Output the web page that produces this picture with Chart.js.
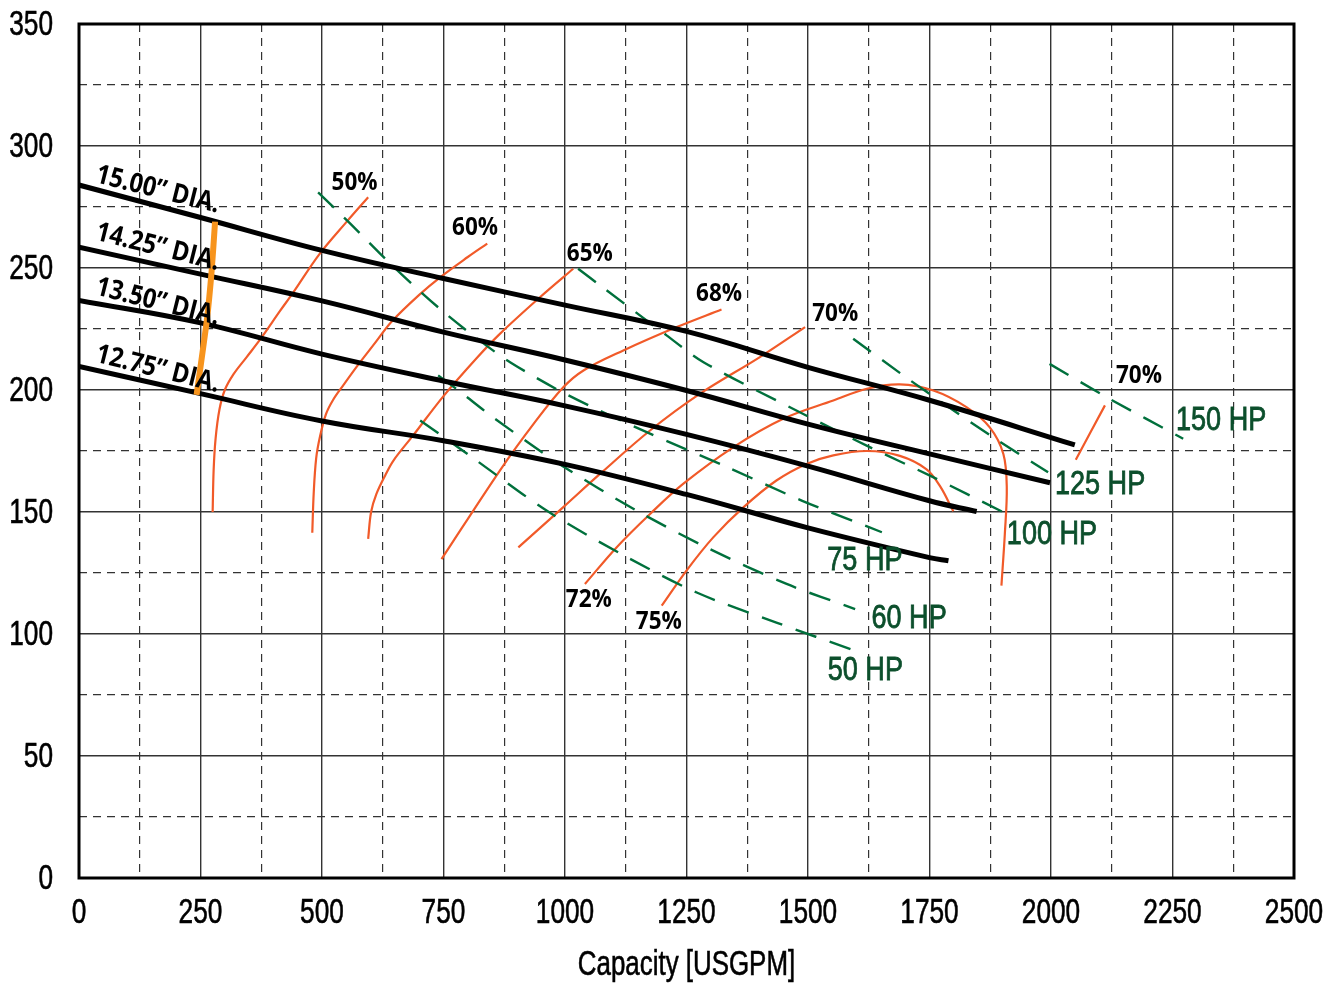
<!DOCTYPE html>
<html>
<head>
<meta charset="utf-8">
<script src="https://cdn.jsdelivr.net/npm/chart.js@4.4.0/dist/chart.umd.min.js"></script>
<style>
html, body { margin: 0; padding: 0; background: #fff; }
#wrap { width: 1343px; height: 983px; }
</style>
</head>
<body>
<div id="wrap"><canvas id="pumpChart"></canvas></div>
<script>
// axis ticks
const capTicks = [0, 250, 500, 750, 1000, 1250, 1500, 1750, 2000, 2250, 2500];
const headTicks = [0, 50, 100, 150, 200, 250, 300, 350];

// impeller curves [capacity, head]
const dia1500 = [[0,284],[250,270.7],[500,257.2],[750,245.7],[1000,234.8],[1250,224],[1500,209.3],[1750,195.8],[2049,177.5]];
const dia1425 = [[0,258.5],[250,247.5],[500,236.5],[750,223.7],[1000,212.3],[1250,199.8],[1500,186],[1750,173.8],[1998,162]];
const dia1350 = [[0,236.7],[250,227.5],[500,214.7],[750,203.7],[1000,193.5],[1250,181.8],[1500,168.8],[1750,154.6],[1847,150.2]];
const dia1275 = [[0,209.7],[250,198.5],[500,187.3],[750,179.2],[1000,169.5],[1250,157.2],[1500,143.5],[1750,131.3],[1789,130]];

// minimum diameter trim line
const trimLine = [[242,198],[263,228.5],[273,249],[280,269]];

// efficiency curves
const eff50 = [[275,150],[277,167],[281,180],[289,192],[300,200],[318,206.5],[345,213.5],[372,220.5],[414,232.5],[441,240],[494,255.5],[551,269],[595,279]];
const eff60 = [[480,141.5],[483,158],[488,172],[496,181],[508,190],[523,196],[544,202],[575,210.5],[610,219.5],[643,228],[700,239],[745,246.5],[800,254.5],[840,260]];
const eff65 = [[595,139],[601,150],[612,157.4],[630,165],[647,171.1],[688,181.5],[750,197.5],[818,213],[866,223],[949,238.1],[1017,249.7]];
const eff68 = [[746,130.7],[866,167],[935,186],[996,201],[1038,208],[1120,216.2],[1230,225.8],[1322,233]];
const eff70 = [[904,135.5],[996,151.9],[1072,165.6],[1175,183.4],[1278,198.5],[1401,213.5],[1494,225.8]];
const eff72 = [[1041,120.5],[1106,135.5],[1175,149.2],[1243,161.5],[1346,176.5],[1449,188.2],[1552,195.7],[1621,200.5],[1689,202.3],[1758,199.8],[1826,193],[1874,184.7],[1902,173.8],[1909,160.1],[1905,141],[1898,119.8]];
const eff75 = [[1199,111.6],[1250,126],[1305,139.6],[1367,151.9],[1435,162.9],[1497,169.7],[1552,173.2],[1621,175],[1689,173],[1744,167.5],[1772,160.5],[1799,150.3]];
const eff70b = [[2051,171.4],[2111,193.7]];

// power lines
const hp50 = [[702,187.5],[746,181.4],[818,171.1],[962,150.6],[1110,133.4],[1271,117],[1435,104.7],[1597,93.1]];
const hp60 = [[739,206],[784,199.3],[852,188.8],[993,169.1],[1147,150.6],[1298,134.8],[1456,120.5],[1597,110.2]];
const hp75 = [[492,281],[554,269],[619,256],[681,244.2],[746,232.7],[815,221.7],[887,211.4],[1007,197.8],[1168,182.7],[1326,169.1],[1487,154.7],[1652,141.7]];
const hp100 = [[1027,249.7],[1072,242.9],[1209,222.4],[1285,211.4],[1470,192.2],[1628,176.5],[1751,164.9],[1902,149.9]];
const hp125 = [[1593,221],[1710,204],[1881,180.6],[1994,166.3]];
const hp150 = [[1997,210.7],[2115,197],[2272,180]];

// text labels
const diaNames = ['15.00\u201D DIA.', '14.25\u201D DIA.', '13.50\u201D DIA.', '12.75\u201D DIA.'];
const diaAt = [[162,282],[162,258.5],[162,236],[162,208.5]];
const effNames = ['50%', '60%', '65%', '68%', '70%', '70%', '72%', '75%'];
const effAt = [[567,285],[815,266.5],[1051,255.6],[1317,239.3],[1556,231],[2181,205.6],[1049,114],[1193,105]];
const hpNames = ['150 HP', '125 HP', '100 HP', '75 HP', '60 HP', '50 HP'];
const hpAt = [[2350,187.5],[2101,161.3],[2002,140.7],[1617,130.1],[1708,106.3],[1618,84.9]];
const xTitle = 'Capacity [USGPM]';

const narrow = "'Liberation Sans', Arial, sans-serif";
const semi = "'Open Sans', 'Noto Sans', sans-serif";

const orange = '#f15a29';
const green = '#00703c';

function curve(points, color, width, dash, order, tension) {
    return {
        data: points.map(p => ({ x: p[0], y: p[1] })),
        borderColor: color,
        borderWidth: width,
        borderDash: dash,
        showLine: true,
        pointRadius: 0,
        tension: tension,
        fill: false,
        order: order
    };
}

const datasets = [
    curve(trimLine, '#f7941d', 6, [], 0, 0.2),
    curve(dia1500, '#000', 5, [], 1, 0.4),
    curve(dia1425, '#000', 5, [], 1, 0.4),
    curve(dia1350, '#000', 5, [], 1, 0.4),
    curve(dia1275, '#000', 5, [], 1, 0.4)
];
[hp50, hp60, hp75, hp100, hp125, hp150].forEach(h => datasets.push(curve(h, green, 2.4, [22, 14], 2, 0.3)));
[eff50, eff60, eff65, eff68, eff70, eff72, eff75, eff70b].forEach(e => datasets.push(curve(e, orange, 2.2, [], 3, 0.35)));

const isMajor = (c, step) => c.tick && Math.round(c.tick.value) % step === 0;

// condensed text: squeeze a normal face horizontally, optional thin outline for weight
function narrowText(ctx, text, px, py, sx, align, rot, stroke) {
    ctx.save();
    ctx.translate(px, py);
    if (rot) ctx.rotate(rot * Math.PI / 180);
    ctx.scale(sx, 1);
    ctx.textAlign = align;
    ctx.fillText(text, 0, 0);
    if (stroke) {
        ctx.lineWidth = stroke;
        ctx.strokeStyle = ctx.fillStyle;
        ctx.strokeText(text, 0, 0);
    }
    ctx.restore();
}

const axisText = {
    id: 'axisText',
    afterDraw(chart) {
        const { ctx, chartArea, scales: { x, y } } = chart;
        ctx.save();
        ctx.fillStyle = '#000';
        ctx.textBaseline = 'alphabetic';
        ctx.font = '35px ' + narrow;
        headTicks.forEach(v => narrowText(ctx, String(v), chartArea.left - 26, y.getPixelForValue(v) + 11, 0.75, 'right', 0, 0.6));
        capTicks.forEach(v => narrowText(ctx, String(v), x.getPixelForValue(v), chartArea.bottom + 45, 0.75, 'center', 0, 0.6));
        narrowText(ctx, xTitle, (chartArea.left + chartArea.right) / 2, chartArea.bottom + 97, 0.74, 'center', 0, 0.6);
        ctx.restore();
    }
};

const curveLabels = {
    id: 'curveLabels',
    afterDatasetsDraw(chart) {
        const { ctx, chartArea, scales: { x, y } } = chart;
        ctx.save();
        ctx.textBaseline = 'middle';

        ctx.fillStyle = '#000';
        ctx.font = '700 27px ' + semi;
        diaNames.forEach((t, i) => {
            narrowText(ctx, t, x.getPixelForValue(diaAt[i][0]), y.getPixelForValue(diaAt[i][1]), 0.88, 'center', 14);
        });

        ctx.font = '700 25px ' + semi;
        effNames.forEach((t, i) => {
            narrowText(ctx, t, x.getPixelForValue(effAt[i][0]), y.getPixelForValue(effAt[i][1]), 0.9, 'center');
        });

        ctx.fillStyle = '#0c4f2c';
        ctx.font = '33px ' + narrow;
        hpNames.forEach((t, i) => {
            narrowText(ctx, t, x.getPixelForValue(hpAt[i][0]), y.getPixelForValue(hpAt[i][1]), 0.82, 'center', 0, 0.8);
        });

        ctx.lineWidth = 3;
        ctx.strokeStyle = '#000';
        ctx.strokeRect(chartArea.left, chartArea.top, chartArea.width, chartArea.height);
        ctx.restore();
    }
};

new Chart(document.getElementById('pumpChart'), {
    type: 'scatter',
    data: { datasets: datasets },
    options: {
        responsive: true,
        maintainAspectRatio: false,
        animation: false,
        layout: { padding: { top: 24, right: 49, bottom: 0, left: 0 } },
        plugins: { legend: { display: false }, tooltip: { enabled: false } },
        scales: {
            x: {
                type: 'linear',
                min: 0,
                max: 2500,
                afterFit: s => { s.height = 105; },
                ticks: { stepSize: 125, maxTicksLimit: 60, autoSkip: false, display: false },
                grid: {
                    color: '#333',
                    lineWidth: c => isMajor(c, 250) ? 1.4 : 1.2,
                    drawTicks: false
                },
                border: { display: false, dash: c => isMajor(c, 250) ? [] : [8, 6] }
            },
            y: {
                type: 'linear',
                min: 0,
                max: 350,
                afterFit: s => { s.width = 79; },
                ticks: { stepSize: 25, maxTicksLimit: 60, autoSkip: false, display: false },
                grid: {
                    color: '#333',
                    lineWidth: c => isMajor(c, 50) ? 1.4 : 1.2,
                    drawTicks: false
                },
                border: { display: false, dash: c => isMajor(c, 50) ? [] : [8, 6] }
            }
        }
    },
    plugins: [curveLabels, axisText]
});
</script>
</body>
</html>
